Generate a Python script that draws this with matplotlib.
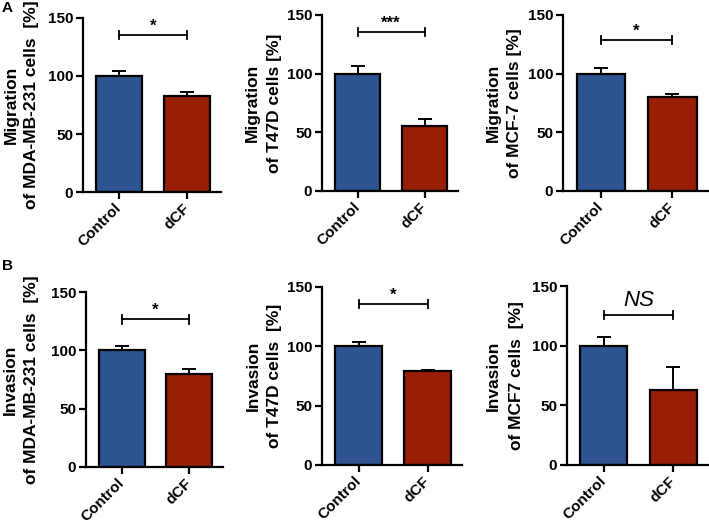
import matplotlib
matplotlib.use("Agg")
import matplotlib.pyplot as plt

plt.rcParams['font.family'] = ['Liberation Sans', 'DejaVu Sans']
plt.rcParams['font.weight'] = 'bold'

categories = ["Control", "dCF"]

# Panel A (migration)
mig_mda_vals = [100, 83]
mig_mda_err = [4, 3]
mig_t47d_vals = [100, 55]
mig_t47d_err = [6.5, 6.5]
mig_mcf7_vals = [100, 80]
mig_mcf7_err = [5, 2.7]

# Panel B (invasion)
inv_mda_vals = [100, 80]
inv_mda_err = [4, 4]
inv_t47d_vals = [100, 79]
inv_t47d_err = [3.7, 1.2]
inv_mcf7_vals = [100, 63]
inv_mcf7_err = [7.5, 19]

ylabel_line1 = ["Migration", "Migration", "Migration", "Invasion", "Invasion", "Invasion"]
ylabel_line2 = [
    "of MDA-MB-231 cells  [%]",
    "of T47D cells [%]",
    "of MCF-7 cells [%]",
    "of MDA-MB-231 cells  [%]",
    "of T47D cells  [%]",
    "of MCF7 cells  [%]",
]
sig_labels = ["*", "***", "*", "*", "*", "NS"]
sig_heights = [135, 135.5, 129, 126.5, 135.5, 125.7]

values = [mig_mda_vals, mig_t47d_vals, mig_mcf7_vals, inv_mda_vals, inv_t47d_vals, inv_mcf7_vals]
errors = [mig_mda_err, mig_t47d_err, mig_mcf7_err, inv_mda_err, inv_t47d_err, inv_mcf7_err]

# axes boxes in pixels: left, top, right, bottom
boxes = [
    (83, 18, 221, 192),
    (322, 15, 458, 191),
    (563, 15, 708, 191),
    (86, 292, 223, 467),
    (322, 287, 462, 465),
    (567, 286, 708, 465),
]
# label line x-centres in pixels
line1_x = [11, 252, 493, 10, 253, 493]
line2_x = [32, 274, 515, 32, 275, 516]

W, H = 709, 523
fig = plt.figure(figsize=(W / 100, H / 100), dpi=100)

colors = ["#2f5492", "#981e05"]

for i in range(6):
    l, t, r, b = boxes[i]
    ax = fig.add_axes([l / W, (H - b) / H, (r - l) / W, (b - t) / H])
    x = [0, 1]
    ax.bar(x, values[i], width=0.68, color=colors, edgecolor="black", linewidth=1.6, zorder=2)
    ax.errorbar(x, values[i], yerr=[[0, 0], errors[i]], fmt="none", ecolor="black",
                elinewidth=1.4, capsize=5, capthick=1.4, zorder=1)
    ax.set_xlim(-0.53, 1.5)
    ax.set_ylim(0, 150)
    ax.set_yticks([0, 50, 100, 150])
    ax.set_xticks(x)
    ax.set_xticklabels(categories, rotation=45, ha="right", va="center",
                       rotation_mode="anchor", fontsize=11, fontweight="bold")
    for lab in ax.get_yticklabels():
        lab.set_fontsize(11)
        lab.set_fontweight("bold")
    ax.spines["top"].set_visible(False)
    ax.spines["right"].set_visible(False)
    ax.spines["left"].set_linewidth(1.6)
    ax.spines["bottom"].set_linewidth(1.6)
    ax.tick_params(axis="y", width=1.6, length=5, pad=2)
    ax.tick_params(axis="x", width=1.6, length=5, pad=5)
    yc = 1 - ((t + b) / 2) / H
    fig.text(line1_x[i] / W, yc, ylabel_line1[i], rotation=90, ha="center", va="center",
             fontsize=12.5, fontweight="bold")
    fig.text(line2_x[i] / W, yc, ylabel_line2[i], rotation=90, ha="center", va="center",
             fontsize=12.5, fontweight="bold")
    # significance bracket
    h = sig_heights[i]
    ax.plot([0, 1], [h, h], color="black", lw=1.3, clip_on=False)
    ax.plot([0, 0], [h - 3.5, h + 3.5], color="black", lw=1.3, clip_on=False)
    ax.plot([1, 1], [h - 3.5, h + 3.5], color="black", lw=1.3, clip_on=False)
    if sig_labels[i] == "NS":
        ax.text(0.5, h + 3, "NS", ha="center", va="bottom", fontsize=16,
                fontstyle="italic", fontweight="normal")
    else:
        ax.text(0.5, h + 1, sig_labels[i], ha="center", va="bottom", fontsize=12,
                fontweight="bold")

fig.text(2 / W, 1 - 1 / H, "A", fontsize=11, fontweight="bold", va="top", ha="left")
fig.text(2 / W, 1 - 259 / H, "B", fontsize=11, fontweight="bold", va="top", ha="left")

fig.savefig("out.png", dpi=100)
